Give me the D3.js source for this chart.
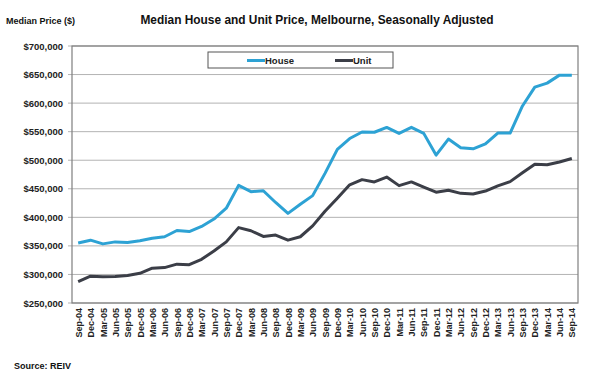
<!DOCTYPE html>
<html>
<head>
<meta charset="utf-8">
<script src="https://cdn.jsdelivr.net/npm/d3@7"></script>
<style>
  body { margin: 0; background: #fff; }
  svg { display: block; font-family: Arial, "Liberation Sans", sans-serif; }
  .grid line { stroke: #b3b3b3; stroke-width: 1; }
  .axis text { font-weight: bold; fill: #222; }
</style>
</head>
<body>
<div class="chart"></div>
<script>
var quarters = ["Sep-04","Dec-04","Mar-05","Jun-05","Sep-05","Dec-05","Mar-06","Jun-06","Sep-06","Dec-06",
  "Mar-07","Jun-07","Sep-07","Dec-07","Mar-08","Jun-08","Sep-08","Dec-08","Mar-09","Jun-09",
  "Sep-09","Dec-09","Mar-10","Jun-10","Sep-10","Dec-10","Mar-11","Jun-11","Sep-11","Dec-11",
  "Mar-12","Jun-12","Sep-12","Dec-12","Mar-13","Jun-13","Sep-13","Dec-13","Mar-14","Jun-14","Sep-14"];

var house = [355000,360000,353500,357000,356000,359000,363500,366000,377000,375000,
  384000,397000,416000,456000,445000,446500,426000,407000,423000,438000,
  477000,519000,538000,549500,549000,557500,547000,557500,547000,509000,
  537000,522000,520000,528500,547500,547500,595000,628000,635000,649000,649000];

var unit = [287500,297000,296000,296500,298000,302000,311000,312000,318000,317000,
  326500,341000,357000,382000,376500,366500,369000,360000,366000,385000,
  410500,433500,457000,466000,462000,470500,455500,462000,453000,444000,
  447500,442000,441000,446000,455000,462500,478000,493000,492000,497000,503000];

var yTicks = [250000,300000,350000,400000,450000,500000,550000,600000,650000,700000];

var svgWidth = 591;
var svgHeight = 377;

var margin = { top: 46, right: 13, bottom: 74, left: 72 };
var width = svgWidth - margin.left - margin.right;
var height = svgHeight - margin.top - margin.bottom;

var svg = d3.select(".chart")
  .append("svg")
  .attr("width", svgWidth)
  .attr("height", svgHeight);

svg.append("rect").attr("width", svgWidth).attr("height", svgHeight).attr("fill", "#fff");

var chartGroup = svg.append("g")
  .attr("transform", `translate(${margin.left}, ${margin.top})`);

var xScale = d3.scalePoint()
  .domain(quarters)
  .range([0, width])
  .padding(0.5);

var yScale = d3.scaleLinear()
  .domain([250000, 700000])
  .range([height, 0]);

// gridlines
chartGroup.append("g")
  .attr("class", "grid")
  .selectAll("line")
  .data(yTicks)
  .enter()
  .append("line")
  .attr("x1", -4)
  .attr("x2", width)
  .attr("y1", d => yScale(d))
  .attr("y2", d => yScale(d));

// y axis labels
var leftAxis = d3.axisLeft(yScale)
  .tickValues(yTicks)
  .tickSize(0)
  .tickPadding(9)
  .tickFormat(d => "$" + d3.format(",")(d));

chartGroup.append("g")
  .attr("class", "axis")
  .call(leftAxis)
  .call(g => g.select(".domain").remove())
  .selectAll("text")
  .attr("font-size", 9.5);

// x axis labels
var bottomAxis = d3.axisBottom(xScale).tickSize(0);

chartGroup.append("g")
  .attr("class", "axis")
  .attr("transform", `translate(0, ${height})`)
  .call(bottomAxis)
  .call(g => g.select(".domain").remove())
  .selectAll("text")
  .attr("font-size", 9)
  .attr("transform", "rotate(-90)")
  .attr("text-anchor", "end")
  .attr("x", -5)
  .attr("y", 0)
  .attr("dy", "0.35em");

// frame
chartGroup.append("rect")
  .attr("width", width)
  .attr("height", height)
  .attr("fill", "none")
  .attr("stroke", "#7f7f7f")
  .attr("stroke-width", 1.2);

var line = d3.line()
  .x((d, i) => xScale(quarters[i]))
  .y(d => yScale(d));

chartGroup.append("path")
  .datum(unit)
  .attr("d", line)
  .attr("fill", "none")
  .attr("stroke", "#3b3e47")
  .attr("stroke-width", 3)
  .attr("stroke-linejoin", "round");

chartGroup.append("path")
  .datum(house)
  .attr("d", line)
  .attr("fill", "none")
  .attr("stroke", "#2da2d4")
  .attr("stroke-width", 3)
  .attr("stroke-linejoin", "round");

// legend
var legend = svg.append("g").attr("transform", "translate(208, 52)");
legend.append("rect")
  .attr("width", 185)
  .attr("height", 16)
  .attr("fill", "#fff")
  .attr("stroke", "#555")
  .attr("stroke-width", 1);

var legendItems = [["House", "#2da2d4", 39], ["Unit", "#3b3e47", 127]];
legendItems.forEach(function(item) {
  legend.append("line")
    .attr("x1", item[2]).attr("x2", item[2] + 18)
    .attr("y1", 8.5).attr("y2", 8.5)
    .attr("stroke", item[1])
    .attr("stroke-width", 3);
  legend.append("text")
    .attr("x", item[2] + 18)
    .attr("y", 12)
    .attr("font-size", 9.5)
    .attr("font-weight", "bold")
    .attr("fill", "#222")
    .text(item[0]);
});

// titles
svg.append("text")
  .attr("x", 317)
  .attr("y", 24)
  .attr("text-anchor", "middle")
  .attr("font-size", 11.9)
  .attr("font-weight", "bold")
  .attr("fill", "#111")
  .text("Median House and Unit Price, Melbourne, Seasonally Adjusted");

svg.append("text")
  .attr("x", 6)
  .attr("y", 24)
  .attr("font-size", 9)
  .attr("font-weight", "bold")
  .attr("fill", "#111")
  .text("Median Price ($)");

svg.append("text")
  .attr("x", 14)
  .attr("y", 369)
  .attr("font-size", 9)
  .attr("font-weight", "bold")
  .attr("fill", "#111")
  .text("Source: REIV");
</script>
</body>
</html>
